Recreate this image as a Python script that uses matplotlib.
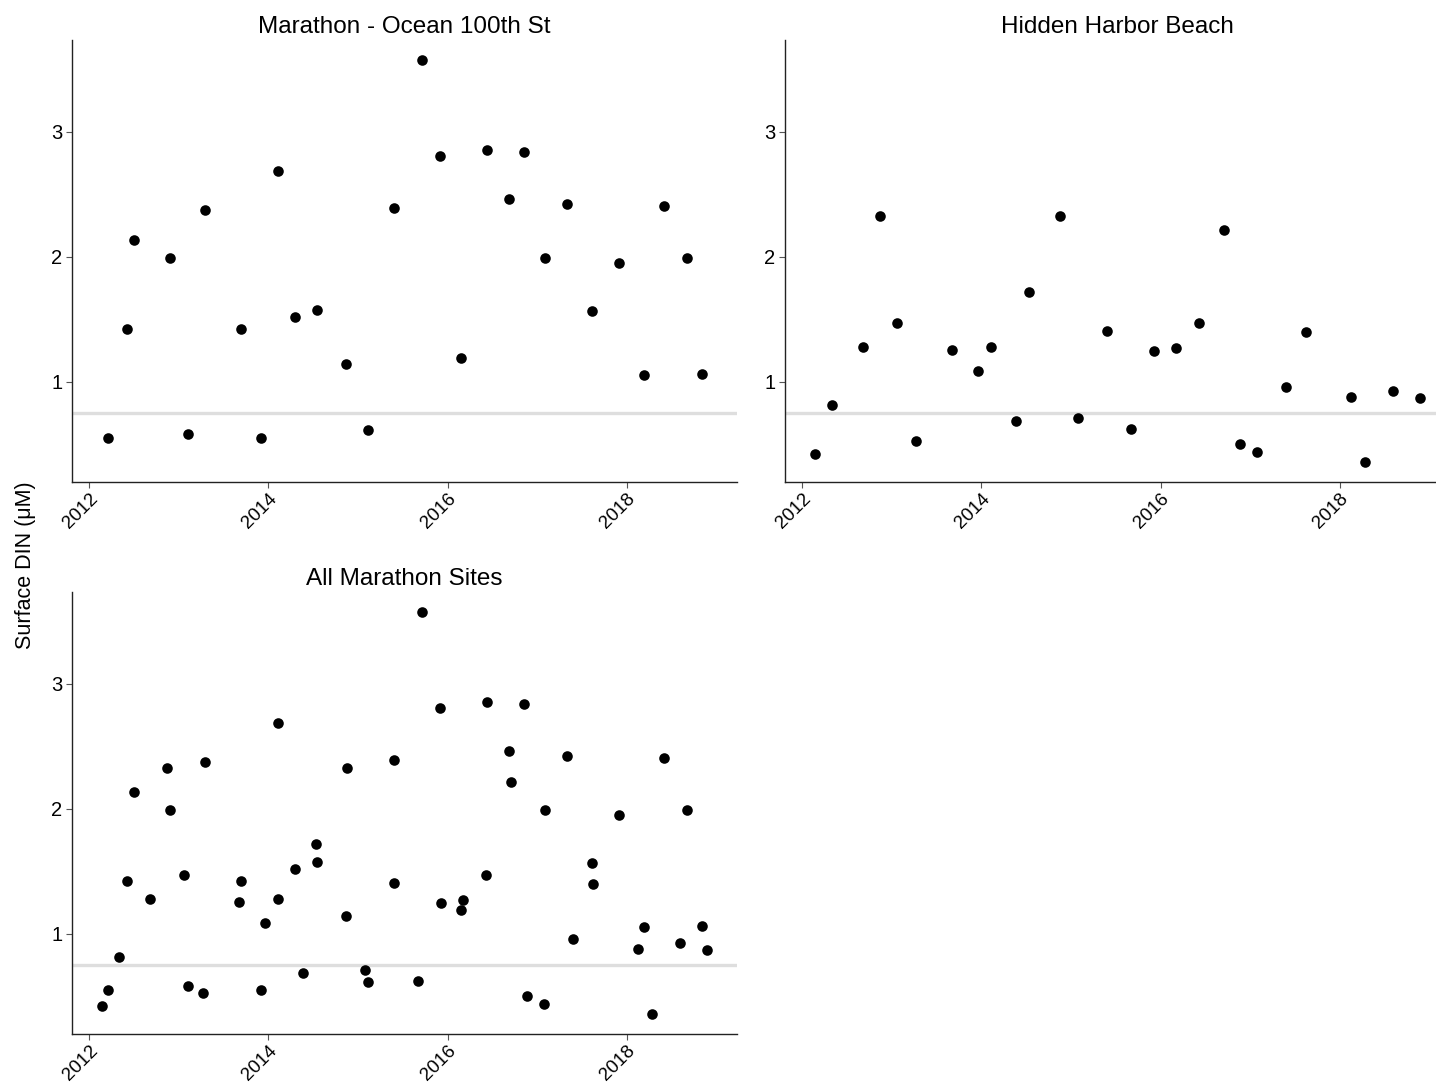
import numpy as np
import matplotlib
matplotlib.use('Agg')
import matplotlib.pyplot as plt

plt.rcParams['font.family'] = ['Liberation Sans', 'DejaVu Sans']

# sample dates as decimal years, surface DIN in uM
ocean_year = [2012.204, 2012.427, 2012.502, 2012.904, 2013.108, 2013.287, 2013.689,
              2013.923, 2014.106, 2014.302, 2014.541, 2014.865, 2015.117, 2015.401,
              2015.713, 2015.921, 2016.155, 2016.439, 2016.688, 2016.855, 2017.086,
              2017.331, 2017.617, 2017.912, 2018.198, 2018.414, 2018.674, 2018.842]
ocean_din = [0.546, 1.418, 2.129, 1.991, 0.581, 2.371, 1.418,
             0.546, 2.687, 1.516, 1.569, 1.141, 0.610, 2.392,
             3.571, 2.801, 1.189, 2.849, 2.464, 2.833, 1.991,
             2.422, 1.566, 1.951, 1.051, 2.408, 1.986, 1.059]

hidden_year = [2012.145, 2012.335, 2012.677, 2012.871, 2013.057, 2013.265, 2013.674,
               2013.964, 2014.106, 2014.381, 2014.537, 2014.879, 2015.084, 2015.404,
               2015.669, 2015.929, 2016.174, 2016.431, 2016.713, 2016.888, 2017.081,
               2017.402, 2017.622, 2018.131, 2018.287, 2018.596, 2018.894]
hidden_din = [0.418, 0.817, 1.279, 2.328, 1.465, 0.525, 1.250,
              1.085, 1.279, 0.689, 1.720, 2.323, 0.711, 1.402,
              0.621, 1.245, 1.271, 1.470, 2.209, 0.504, 0.437,
              0.958, 1.396, 0.880, 0.358, 0.926, 0.870]

titles = ['Marathon - Ocean 100th St', 'Hidden Harbor Beach', 'All Marathon Sites']
year_ticks = [2012, 2014, 2016, 2018]
din_ticks = [1, 2, 3]
threshold = 0.75

W, H = 1436, 1086


def expand(vals, mult=0.05):
    lo, hi = min(vals), max(vals)
    pad = (hi - lo) * mult
    return lo - pad, hi + pad


def panel(fig, box, xs, ys, title, xlim, ylim):
    left, top, right, bottom = box
    ax = fig.add_axes([left / W, 1 - bottom / H, (right - left) / W, (bottom - top) / H])
    ax.axhline(threshold, color='#dedede', lw=2.4, zorder=1)
    ax.scatter(xs, ys, s=58, color='black', zorder=3, linewidths=0)
    ax.set_xlim(xlim)
    ax.set_ylim(ylim)
    ax.set_xticks(year_ticks)
    ax.set_xticklabels([str(y) for y in year_ticks], rotation=45, ha='right', va='top',
                       rotation_mode='anchor', fontsize=13.5)
    ax.set_yticks(din_ticks)
    ax.set_yticklabels([str(v) for v in din_ticks], fontsize=14.5)
    ax.tick_params(length=4, width=0.8, color='#555555', pad=3)
    ax.tick_params(axis='x', pad=2)
    for s in ['top', 'right']:
        ax.spines[s].set_visible(False)
    for s in ['left', 'bottom']:
        ax.spines[s].set_color('#222222')
        ax.spines[s].set_linewidth(1.0)
    ax.set_title(title, fontsize=17.5, pad=5)
    return ax


all_year = ocean_year + hidden_year
all_din = ocean_din + hidden_din
xlim = expand(all_year)
ylim = expand(all_din)

fig = plt.figure(figsize=(W / 100, H / 100), dpi=100)
panel(fig, (72, 40, 737, 482), ocean_year, ocean_din, titles[0], xlim, ylim)
panel(fig, (785, 40, 1450, 482), hidden_year, hidden_din, titles[1], xlim, ylim)
panel(fig, (72, 592, 737, 1034), all_year, all_din, titles[2], xlim, ylim)

fig.text(26 / W, 1 - 565 / H, 'Surface DIN (\u03bcM)', rotation=90, fontsize=15.5,
         ha='center', va='center')

fig.savefig('out.png', dpi=100)
